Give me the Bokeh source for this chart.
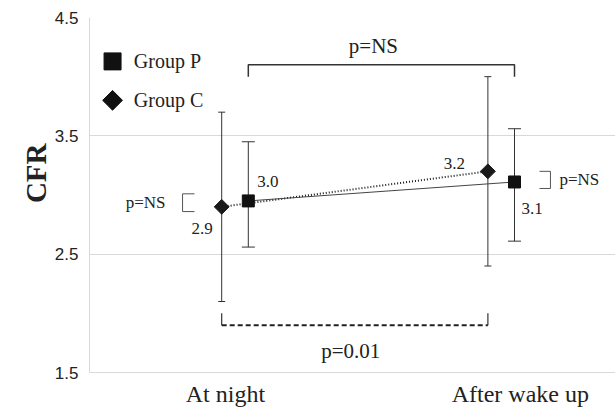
import math
from bokeh.plotting import figure
from bokeh.models import Range1d, FixedTicker, Whisker, ColumnDataSource, Label, TeeHead, Title
from bokeh.embed import file_html
from bokeh.resources import INLINE

# ---- data ----
PHASES = ["At night", "After wake up"]
GROUPS = ["Group P", "Group C"]
P_MEAN = [2.95, 3.11]
P_LOW = [2.56, 2.61]
P_HIGH = [3.45, 3.56]
P_LABELS = ["3.0", "3.1"]
C_MEAN = [2.90, 3.20]
C_LOW = [2.10, 2.40]
C_HIGH = [3.70, 4.00]
C_LABELS = ["2.9", "3.2"]
Y_TICKS = [1.5, 2.5, 3.5, 4.5]
P_TEXT_P_PHASE = "p=NS"      # Group P, night vs wake
P_TEXT_C_PHASE = "p=0.01"    # Group C, night vs wake
P_TEXT_NIGHT = "p=NS"        # P vs C at night
P_TEXT_WAKE = "p=NS"         # P vs C after wake up

# ---- style ----
SERIF = "Liberation Serif"
SANS = "Liberation Sans"
INK = "#222222"
GRID = "#d9d9d9"
CAT_POS = [1, 2]
DODGE = 0.05
TICK_POS = [0.964, 2.072]

xP = [c + DODGE for c in CAT_POS]
xC = [c - DODGE for c in CAT_POS]

p = figure(width=615, height=409, output_backend="svg", toolbar_location=None,
           x_range=Range1d(0.4534, 2.4294), y_range=Range1d(1.5, 4.5),
           min_border_left=89, min_border_right=0, min_border_top=17, min_border_bottom=37)
p.outline_line_color = None
p.background_fill_color = "white"

# axes
p.yaxis.ticker = FixedTicker(ticks=Y_TICKS)
p.yaxis.major_label_overrides = {t: f"{t:.1f}" for t in Y_TICKS}
p.yaxis.major_tick_line_color = None
p.yaxis.major_tick_out = 0
p.yaxis.major_tick_in = 0
p.yaxis.minor_tick_line_color = None
p.yaxis.axis_line_color = GRID
p.yaxis.major_label_text_font = SANS
p.yaxis.major_label_text_font_size = "17px"
p.yaxis.major_label_text_color = INK
p.yaxis.major_label_standoff = 11

p.xaxis.ticker = FixedTicker(ticks=TICK_POS)
p.xaxis.major_label_overrides = {TICK_POS[i]: PHASES[i] for i in range(2)}
p.xaxis.major_tick_line_color = None
p.xaxis.major_tick_out = 0
p.xaxis.major_tick_in = 0
p.xaxis.minor_tick_line_color = None
p.xaxis.axis_line_color = GRID
p.xaxis.major_label_text_font = SERIF
p.xaxis.major_label_text_font_size = "24px"
p.xaxis.major_label_text_color = INK
p.xaxis.major_label_standoff = 8

p.xgrid.grid_line_color = None
p.ygrid.ticker = FixedTicker(ticks=Y_TICKS)
p.ygrid.grid_line_color = GRID

# y axis title
p.add_layout(Title(text="CFR", align="right", offset=126, text_font=SERIF,
                   text_font_style="bold", text_font_size="29px", text_color=INK,
                   standoff=0), "left")

# error bars
srcP = ColumnDataSource(dict(x=xP, lo=P_LOW, hi=P_HIGH))
srcC = ColumnDataSource(dict(x=xC, lo=C_LOW, hi=C_HIGH))
for src, cap in ((srcC, 7), (srcP, 13)):
    w = Whisker(source=src, base="x", lower="lo", upper="hi", line_color="#333333", line_width=1,
                upper_head=TeeHead(size=cap, line_color="#333333", line_width=1),
                lower_head=TeeHead(size=cap, line_color="#333333", line_width=1))
    p.add_layout(w)

# connecting lines
p.line(xC, C_MEAN, line_color="#1a1a1a", line_width=2, line_dash="1 2")
p.line(xP, P_MEAN, line_color="#444444", line_width=1)

# markers
p.scatter(xC, C_MEAN, marker="square", angle=math.pi / 4, size=10.5,
          fill_color="#1a1a1a", line_color="#1a1a1a")
p.scatter(xP, P_MEAN, marker="square", size=12, fill_color="#111111", line_color="#111111")

# value labels
def lab(x, y, t, align, dx, dy, size="17px"):
    p.add_layout(Label(x=x, y=y, text=t, x_offset=dx, y_offset=dy, text_align=align,
                       text_baseline="middle", text_font=SERIF, text_font_size=size,
                       text_color=INK))

lab(xP[0], P_MEAN[0], P_LABELS[0], "left", 9, 19)
lab(xP[1], P_MEAN[1], P_LABELS[1], "left", 7, -27)
lab(xC[0], C_MEAN[0], C_LABELS[0], "right", -9, -22)
lab(xC[1], C_MEAN[1], C_LABELS[1], "right", -23, 8)

# top bracket (Group P, night vs wake)
p.line([xP[0], xP[0], xP[1], xP[1]], [4.0, 4.1, 4.1, 4.0], line_color="#333333", line_width=1.5)
lab((xP[0] + xP[1]) / 2, 4.1, P_TEXT_P_PHASE, "center", -8, 19, "21px")

# bottom dashed bracket (Group C, night vs wake)
p.line([xC[0], xC[0]], [2.0, 1.9], line_color="#333333", line_width=1.2)
p.line([xC[1], xC[1]], [2.0, 1.9], line_color="#333333", line_width=1.2)
p.line([xC[0], xC[1]], [1.9, 1.9], line_color="#222222", line_width=2, line_dash="5 3")
lab((xC[0] + xC[1]) / 2, 1.9, P_TEXT_C_PHASE, "center", -4, -26, "21px")

# small bracket at night
bx0, bx1 = xC[0] - 0.147, xC[0] - 0.102
p.line([bx1, bx0, bx0, bx1], [3.01, 3.01, 2.86, 2.86], line_color="#555555", line_width=1)
lab(bx0, 2.935, P_TEXT_NIGHT, "right", -17, 0)

# small bracket after wake up
ax0, ax1 = xP[1] + 0.094, xP[1] + 0.135
p.line([ax0, ax1, ax1, ax0], [3.20, 3.20, 3.055, 3.055], line_color="#555555", line_width=1)
lab(ax1, 3.128, P_TEXT_WAKE, "left", 9, 0)

# legend (manual)
p.scatter([0.540], [4.129], marker="square", size=17, fill_color="#111111", line_color="#111111")
p.scatter([0.540], [3.800], marker="square", angle=math.pi / 4, size=14,
          fill_color="#111111", line_color="#111111")
lab(0.620, 4.129, GROUPS[0], "left", 0, 0, "20px")
lab(0.620, 3.800, GROUPS[1], "left", 0, 0, "20px")

open("out.html", "w").write(file_html(p, INLINE))
